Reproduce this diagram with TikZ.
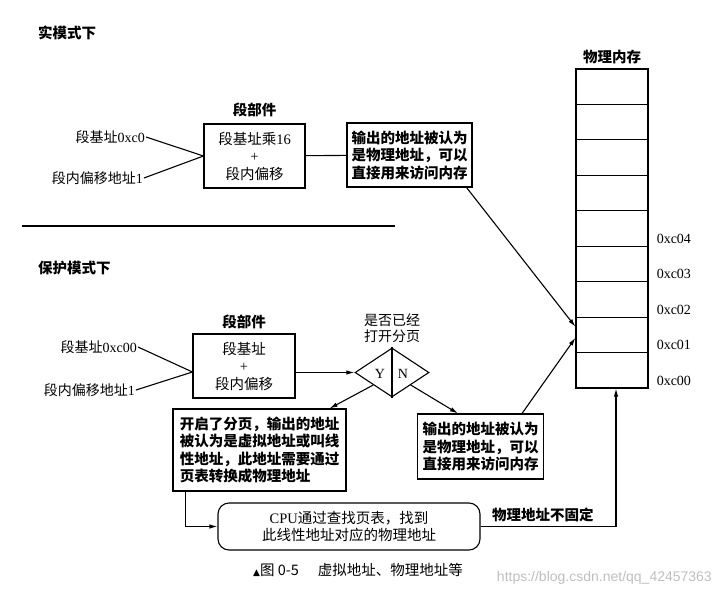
\documentclass[tikz,border=0pt]{standalone}
\usepackage{fontspec}
\setmainfont{Liberation Serif}
\newfontfamily\cjk{Noto Sans CJK SC}
\newfontfamily\symfont{DejaVu Sans}
\newfontfamily\wmfont{Liberation Sans}
\usetikzlibrary{positioning,shapes.geometric,arrows.meta}
\newcommand{\lat}[1]{{\rmfamily #1}}

\begin{document}
\begin{tikzpicture}[x=1pt,y=-1pt,
txt/.style={font=\cjk\fontsize{14}{16}\selectfont, inner sep=1pt, align=center},
head/.style={font=\cjk\bfseries\fontsize{14.5}{17}\selectfont, inner sep=1pt},
box/.style={draw, line width=1.1pt, align=center, font=\cjk\fontsize{14.5}{17.5}\selectfont, inner sep=2pt},
note/.style={draw, line width=1.1pt, align=left, font=\cjk\bfseries\fontsize{14.5}{17.5}\selectfont, inner sep=4pt},
cell/.style={draw, line width=1.1pt, minimum width=72pt, minimum height=35.44pt, inner sep=0pt},
addr/.style={font=\fontsize{14}{16}\selectfont, inner sep=0pt},
arrow/.style={-{Latex[length=8pt,width=4.5pt]}, line width=1.1pt},
link/.style={line width=1.1pt}
]
\useasboundingbox (0,0) rectangle (720,596);

% real mode
\node[head, anchor=west] (realtitle) at (37,33) {实模式下};
\node[box, minimum width=101pt, minimum height=64pt] (seg1) at (254.5,156) {段基址乘\lat{16}\\\lat{+}\\段内偏移};
\node[head, above=5pt of seg1] (seg1title) {段部件};
\node[txt, anchor=east] (base1) at (146,137) {段基址\lat{0xc0}};
\node[txt, anchor=east] (off1) at (144,178) {段内偏移地址\lat{1}};
\node[note, minimum width=125pt, minimum height=64pt] (phys1) at (409.5,155) {输出的地址被认为\\是物理地址，可以\\直接用来访问内存};
\draw[link] (base1.east) -- (seg1.west);
\draw[link] (off1.east) -- (seg1.west);
\draw[link] (seg1) -- (phys1);

\draw[link] (22,226) -- (395,226);

% physical memory
\foreach \i in {0,...,8}
  \node[cell] (m\i) at (612,86.72+35.44*\i) {};
\node[head, above=3pt of m0] (memtitle) {物理内存};
\foreach \i/\addr in {4/0xc04,5/0xc03,6/0xc02,7/0xc01,8/0xc00}
  \node[addr, anchor=west] (lbl\i) at ([xshift=8pt,yshift=8pt]m\i.south east) {\addr};

% protected mode
\node[head, anchor=west] (prottitle) at (37,268) {保护模式下};
\node[box, minimum width=102pt, minimum height=64pt] (seg2) at (244,366) {段基址\\\lat{+}\\段内偏移};
\node[head, above=3pt of seg2] (seg2title) {段部件};
\node[txt, anchor=east] (base2) at (138,347) {段基址\lat{0xc00}};
\node[txt, anchor=east] (off2) at (136,390) {段内偏移地址\lat{1}};
\draw[link] (base2.east) -- ([yshift=-6pt]seg2.west);
\draw[link] (off2.east) -- ([yshift=-6pt]seg2.west);

\node[diamond, draw, line width=1.1pt, minimum width=74pt, minimum height=49pt, inner sep=0pt] (paging) at (392,372.5) {};
\draw[link] (paging.north) -- (paging.south);
\node[addr] (yes) at (380,374) {Y};
\node[addr] (no) at (403,374) {N};
\node[txt, above=4pt of paging] (question) {是否已经\\打开分页};
\draw[arrow] (seg2.east |- paging.west) -- (paging.west);

\node[note, minimum width=173pt, minimum height=82pt] (linear) at (259.5,450) {开启了分页，输出的地址\\被认为是虚拟地址或叫线\\性地址，此地址需要通过\\页表转换成物理地址};
\node[note, minimum width=126pt, minimum height=65pt] (phys2) at (480.5,446.5) {输出的地址被认为\\是物理地址，可以\\直接用来访问内存};
\draw[arrow] (paging.south west) -- ([xshift=-17pt]linear.north east);
\draw[arrow] (paging.south east) -- ([xshift=41pt]phys2.north west);

\node[box, rounded corners=11pt, minimum width=262pt, minimum height=47pt] (cpu) at (349,526.5) {\lat{CPU}通过查找页表，找到\\此线性地址对应的物理地址};
\draw[arrow] ([xshift=13pt]linear.south west) |- (cpu.west);
\draw[arrow] (cpu.east) -| ([xshift=4pt]m8.south) node[head, pos=0.23, above=3pt] (notfixed) {物理地址不固定};

\draw[arrow] ([xshift=-6pt]phys1.south east) -- ([yshift=8pt]m7.west);
\draw[arrow] ([xshift=-22pt]phys2.north east) -- ([yshift=-3pt]m7.west);

% caption
\node[txt, font=\cjk\fontsize{14.5}{16}\selectfont] (caption) at (358,570) {{\symfont\fontsize{9}{9}\selectfont ▲}图 0-5\hspace{1.3em}虚拟地址、物理地址等};
\node[font=\wmfont\fontsize{14}{16}\selectfont, text=black!25, anchor=east, inner sep=0pt] (watermark) at (712,578) {https://blog.csdn.net/qq\_42457363};
\end{tikzpicture}
\end{document}
